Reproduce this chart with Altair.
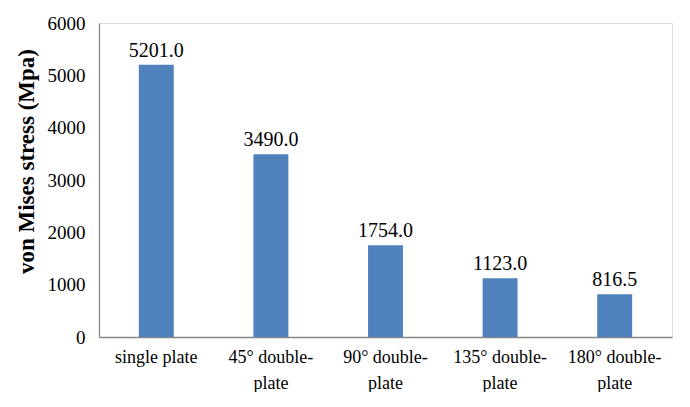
import altair as alt
import pandas as pd

categories = ["single plate", "45° double-plate", "90° double-plate",
              "135° double-plate", "180° double-plate"]
stress = [5201.0, 3490.0, 1754.0, 1123.0, 816.5]

df = pd.DataFrame({"config": categories, "stress": stress})

FONT = "'Liberation Serif', 'Times New Roman', 'DejaVu Serif', serif"

x = alt.X(
    "config:N",
    sort=categories,
    title=None,
    scale=alt.Scale(paddingInner=0.695, paddingOuter=0.3475),
    axis=alt.Axis(
        labelAngle=0,
        labelFont=FONT,
        labelFontSize=18,
        labelColor="#000000",
        labelBaseline="alphabetic",
        labelPadding=25,
        labelLineHeight=26,
        labelExpr="indexof(datum.label, 'double-') >= 0 ? [replace(datum.label, 'plate', ''), 'plate'] : datum.label",
        ticks=False,
        tickSize=0,
        domainColor="#868686",
        domainWidth=1.3,
        grid=False,
    ),
)

y = alt.Y(
    "stress:Q",
    title="von Mises stress (Mpa)",
    scale=alt.Scale(domain=[0, 6000], nice=False),
    axis=alt.Axis(
        values=[0, 1000, 2000, 3000, 4000, 5000, 6000],
        format="d",
        labelFont=FONT,
        labelFontSize=19,
        labelColor="#000000",
        labelPadding=14,
        ticks=False,
        tickSize=0,
        domainColor="#868686",
        domainWidth=1.3,
        grid=False,
        titleFont=FONT,
        titleFontSize=23,
        titleFontWeight="bold",
        titleColor="#000000",
        titleAngle=-90,
        titleBaseline="alphabetic",
        titleAlign="center",
        titleX=-66,
        titleY=138,
    ),
)

bars = alt.Chart(df).mark_bar(color="#4F81BD").encode(x=x, y=y)

labels = alt.Chart(df).mark_text(
    font=FONT, fontSize=20, color="#000000", baseline="alphabetic", dy=-8
).encode(
    x=alt.X("config:N", sort=categories),
    y=alt.Y("stress:Q"),
    text=alt.Text("stress:Q", format=".1f"),
)

chart = (
    (bars + labels)
    .properties(
        width=573,
        height=314,
        autosize=alt.AutoSizeParams(type="none"),
        padding={"left": 91, "top": 15, "right": 10, "bottom": 55},
    )
    .configure_view(stroke=None)
    .configure(background="#ffffff", font=FONT)
)

chart.save("out.html", embed_options={"renderer": "svg", "actions": False})
